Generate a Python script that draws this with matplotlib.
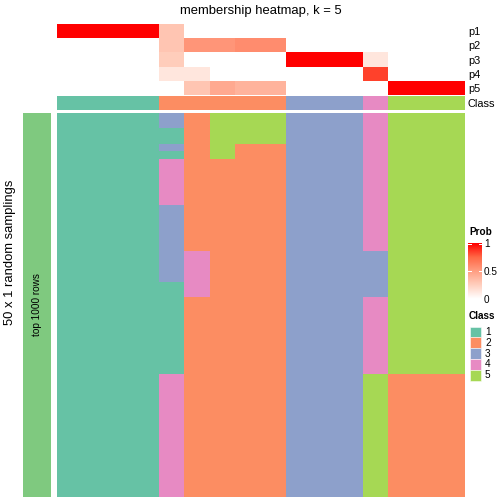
import matplotlib
matplotlib.use('Agg')
import matplotlib.pyplot as plt
import numpy as np
from matplotlib.colors import ListedColormap, LinearSegmentedColormap
from matplotlib.patches import Rectangle

plt.rcParams['font.family'] = ['Liberation Sans', 'DejaVu Sans']

# membership probabilities, one list per p row, 16 columns
prob_rows = ['p1', 'p2', 'p3', 'p4', 'p5']
p1 = [1, 1, 1, 1, 0.30, 0, 0, 0, 0, 0, 0, 0, 0, 0, 0, 0]
p2 = [0, 0, 0, 0, 0.30, 0.54, 0.54, 0.58, 0.58, 0, 0, 0, 0, 0, 0, 0]
p3 = [0, 0, 0, 0, 0.26, 0, 0, 0, 0, 1, 1, 1, 0.13, 0, 0, 0]
p4 = [0, 0, 0, 0, 0.13, 0.13, 0, 0, 0, 0, 0, 0, 0.84, 0, 0, 0]
p5 = [0, 0, 0, 0, 0, 0.30, 0.44, 0.39, 0.39, 0, 0, 0, 0, 1, 1, 1]
final_class = [1, 1, 1, 1, 2, 2, 2, 2, 2, 3, 3, 3, 4, 5, 5, 5]

# class of each column in the 50 samplings, as (class, number of rows) from top
runs = [
    [(1, 50)], [(1, 50)], [(1, 50)], [(1, 50)],
    [(3, 2), (1, 2), (3, 1), (1, 1), (4, 6), (3, 10), (1, 12), (4, 16)],
    [(2, 18), (4, 6), (2, 26)],
    [(5, 6), (2, 44)],
    [(5, 4), (2, 46)],
    [(5, 4), (2, 46)],
    [(3, 50)], [(3, 50)], [(3, 50)],
    [(4, 18), (3, 6), (4, 10), (5, 16)],
    [(5, 34), (2, 16)], [(5, 34), (2, 16)], [(5, 34), (2, 16)],
]
class_labels = ['1', '2', '3', '4', '5']
class_colors = ['#66C2A5', '#FC8D62', '#8DA0CB', '#E78AC3', '#A6D854']

member = np.array([sum([[c] * n for c, n in col], []) for col in runs]).T
prob = np.array([p1, p2, p3, p4, p5])

W = H = 504.0
def box(x0, y0, x1, y1):
    return [x0 / W, 1 - y1 / H, (x1 - x0) / W, (y1 - y0) / H]

# white -> red ramp, roughly as interpolated in LAB space
prob_cmap = LinearSegmentedColormap.from_list(
    'prob', [(0, '#FFFFFF'), (0.25, '#FFCFBE'), (0.5, '#FF9E82'),
             (0.75, '#FF6846'), (1, '#FF0000')])
class_cmap = ListedColormap(class_colors)

fig = plt.figure(figsize=(7, 7), dpi=72)

ax_p = fig.add_axes(box(57, 24, 465, 95))
ax_p.imshow(prob, cmap=prob_cmap, vmin=0, vmax=1, aspect='auto', interpolation='nearest')
ax_p.set_xticks([])
ax_p.yaxis.tick_right()
ax_p.set_yticks(range(5))
ax_p.set_yticklabels(prob_rows, fontsize=11)
ax_p.tick_params(length=0, pad=3)
for s in ax_p.spines.values():
    s.set_visible(False)

ax_c = fig.add_axes(box(57, 96, 465, 110))
ax_c.imshow([final_class], cmap=class_cmap, vmin=0.5, vmax=5.5, aspect='auto', interpolation='nearest')
ax_c.set_xticks([])
ax_c.yaxis.tick_right()
ax_c.set_yticks([0])
ax_c.set_yticklabels(['Class'], fontsize=11)
ax_c.tick_params(length=0, pad=3)
for s in ax_c.spines.values():
    s.set_visible(False)

ax_m = fig.add_axes(box(57, 113, 465, 497))
ax_m.imshow(member, cmap=class_cmap, vmin=0.5, vmax=5.5, aspect='auto', interpolation='nearest')
ax_m.axis('off')

ax_l = fig.add_axes(box(23, 113, 51, 497))
ax_l.set_facecolor('#7FC97F')
ax_l.set_xticks([])
ax_l.set_yticks([])
for s in ax_l.spines.values():
    s.set_visible(False)
ax_l.text(0.5, 0.5, 'top 1000 rows', rotation=90, ha='center', va='center',
          fontsize=10, transform=ax_l.transAxes)

fig.text(10 / W, 0.5, '50 x 1 random samplings', rotation=90, ha='center',
         va='center', fontsize=13)
fig.text(261 / W, 1 - 11 / H, 'membership heatmap, k = 5', ha='center',
         va='center', fontsize=13)

# Prob legend
fig.text(469 / W, 1 - 232 / H, 'Prob', fontsize=10, fontweight='bold', va='center')
ax_cb = fig.add_axes(box(468, 243, 482, 299))
grad = np.linspace(1, 0, 100).reshape(-1, 1)
ax_cb.imshow(grad, cmap=prob_cmap, vmin=0, vmax=1, aspect='auto', extent=[0, 1, 0, 1])
ax_cb.set_xticks([])
ax_cb.yaxis.tick_right()
ax_cb.set_yticks([0, 0.5, 1])
ax_cb.set_yticklabels(['0', '0.5', '1'], fontsize=10)
ax_cb.tick_params(length=0, pad=2)
for y in [0.5, 0.985]:
    ax_cb.plot([0, 0.22], [y, y], color='white', lw=1)
    ax_cb.plot([0.78, 1], [y, y], color='white', lw=1)
ax_cb.set_xlim(0, 1)
ax_cb.set_ylim(0, 1)
for s in ax_cb.spines.values():
    s.set_visible(False)

# Class legend
fig.text(469 / W, 1 - 316 / H, 'Class', fontsize=10, fontweight='bold', va='center')
for i, (lab, col) in enumerate(zip(class_labels, class_colors)):
    yc = 332 + i * 10.8
    fig.patches.append(Rectangle((470 / W, 1 - (yc + 5.4) / H), 11 / W, 10.8 / H,
                                 facecolor=col, edgecolor='white', lw=0.5,
                                 transform=fig.transFigure))
    fig.text(485 / W, 1 - yc / H, lab, fontsize=10, va='center')

fig.savefig('out.png', dpi=72)
